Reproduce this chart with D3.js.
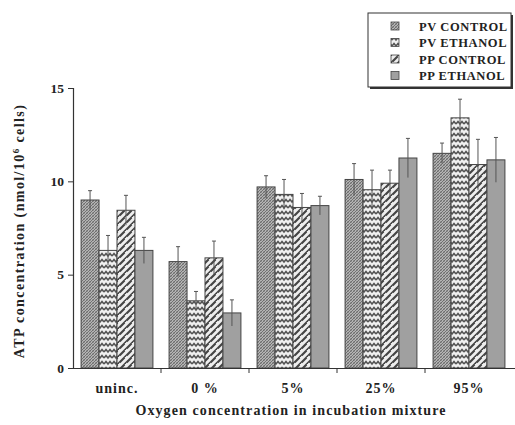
<!DOCTYPE html>
<html><head><meta charset="utf-8">
<script src="https://cdn.jsdelivr.net/npm/d3@7/dist/d3.min.js"></script>
<style>body{margin:0;background:#fff}svg{display:block}text{font-family:"Liberation Serif","DejaVu Serif",serif;font-weight:bold;fill:#222}</style>
</head><body><svg id="c" width="515" height="425"></svg>
<script>
const categories = ["uninc.", "0 %", "5%", "25%", "95%"];
const series = ["PV CONTROL", "PV ETHANOL", "PP CONTROL", "PP ETHANOL"];
const pvControl = [9.0, 5.7, 9.7, 10.1, 11.5];
const pvControlErr = [0.5, 0.8, 0.6, 0.85, 0.55];
const pvEthanol = [6.3, 3.6, 9.3, 9.55, 13.4];
const pvEthanolErr = [0.8, 0.5, 0.8, 1.05, 1.0];
const ppControl = [8.45, 5.9, 8.6, 9.9, 10.9];
const ppControlErr = [0.8, 0.9, 0.75, 0.7, 1.35];
const ppEthanol = [6.3, 2.95, 8.7, 11.25, 11.15];
const ppEthanolErr = [0.7, 0.7, 0.5, 1.05, 1.2];
const yTicks = [0, 5, 10, 15];

const values = [pvControl, pvEthanol, ppControl, ppEthanol];
const errs = [pvControlErr, pvEthanolErr, ppControlErr, ppEthanolErr];

const svg = d3.select("#c");
const defs = svg.append("defs");
// patterns
const p0 = defs.append("pattern").attr("id","p0").attr("patternUnits","userSpaceOnUse").attr("width",3).attr("height",3);
p0.append("rect").attr("width",3).attr("height",3).attr("fill","#b4b4b4");
p0.append("path").attr("d","M-1,1 L1,-1 M0,3 L3,0 M2,4 L4,2").attr("stroke","#5a5a5a").attr("stroke-width",0.8);
p0.append("path").attr("d","M-1,2 L1,4 M0,0 L3,3 M2,-1 L4,1").attr("stroke","#777").attr("stroke-width",0.5);
const p1 = defs.append("pattern").attr("id","p1").attr("patternUnits","userSpaceOnUse").attr("width",8).attr("height",6);
p1.append("rect").attr("width",8).attr("height",6).attr("fill","#f0f0f0");
p1.append("path").attr("d","M0,4 L2,1.5 L4,4 L6,1.5 L8,4").attr("stroke","#555").attr("stroke-width",1.6).attr("fill","none");
const p2 = defs.append("pattern").attr("id","p2").attr("patternUnits","userSpaceOnUse").attr("width",7).attr("height",7);
p2.append("rect").attr("width",7).attr("height",7).attr("fill","#eeeeee");
p2.append("path").attr("d","M1,5 L5,1 M4.5,8.5 L8.5,4.5 M-2.5,8.5 L-1,7").attr("stroke","#444").attr("stroke-width",2.2).attr("stroke-linecap","round");
const fills = ["url(#p0)","url(#p1)","url(#p2)","#a0a0a0"];

const y = d3.scaleLinear().domain([0,15]).range([368,88]);
const x = d3.scaleBand().domain(categories).range([73,513]);
const x1 = d3.scaleBand().domain(series).range([0,x.bandwidth()]).paddingInner(0).paddingOuter(0.45);

// bars
categories.forEach((c,i)=>{
  series.forEach((s,j)=>{
    const v = values[j][i], e = errs[j][i];
    const bx = x(c)+x1(s);
    svg.append("rect").attr("x",bx).attr("y",y(v)).attr("width",x1.bandwidth()).attr("height",y(0)-y(v))
      .attr("fill",fills[j]).attr("stroke","#444").attr("stroke-width",1);
    const cx = bx + x1.bandwidth()/2;
    svg.append("line").attr("x1",cx).attr("x2",cx).attr("y1",y(v+e)).attr("y2",y(v-e)).attr("stroke","#555").attr("stroke-width",1);
    svg.append("line").attr("x1",cx-2).attr("x2",cx+2).attr("y1",y(v+e)).attr("y2",y(v+e)).attr("stroke","#555").attr("stroke-width",1);
  });
});

// y axis
const ya = svg.append("g").attr("transform","translate(73,0)").call(d3.axisLeft(y).tickValues(yTicks).tickSize(5).tickPadding(4));
ya.select(".domain").attr("stroke","#333").attr("stroke-width",1.2);
ya.selectAll("line").attr("stroke","#333");
ya.selectAll("text").style("font-size","13.5px").style("font-family","Liberation Serif").style("font-weight","bold").attr("fill","#222");

// x axis
svg.append("line").attr("x1",73).attr("x2",515).attr("y1",368.5).attr("y2",368.5).attr("stroke","#333").attr("stroke-width",1.2);
categories.slice(0,-1).forEach(c=>{
  const tx = x(c)+x.bandwidth();
  svg.append("line").attr("x1",tx).attr("x2",tx).attr("y1",368).attr("y2",373).attr("stroke","#333");
});
categories.forEach(c=>{
  svg.append("text").attr("x",x(c)+x.bandwidth()/2).attr("y",393).attr("text-anchor","middle").style("font-size","14px").style("letter-spacing","1px").text(c);
});
svg.append("text").attr("x",291).attr("y",415).attr("text-anchor","middle").style("font-size","14px").style("letter-spacing","1.1px").text("Oxygen concentration in incubation mixture");
const yt = svg.append("text").attr("transform","translate(24,231) rotate(-90)").attr("text-anchor","middle").style("font-size","14px").style("letter-spacing","1.4px");
yt.append("tspan").text("ATP concentration (nmol/10");
yt.append("tspan").attr("dy",-5).style("font-size","9px").text("6");
yt.append("tspan").attr("dy",5).text(" cells)");

// legend
const lg = svg.append("g");
lg.append("rect").attr("x",370).attr("y",15).attr("width",143).attr("height",74).attr("fill","#333");
lg.append("rect").attr("x",368).attr("y",13).attr("width",143).attr("height",74).attr("fill","#fff").attr("stroke","#333").attr("stroke-width",1);
series.forEach((s,j)=>{
  const ry = 26 + j*16.5;
  lg.append("rect").attr("x",391).attr("y",ry-4).attr("width",8).attr("height",8).attr("fill",fills[j]).attr("stroke","#444").attr("stroke-width",0.8);
  lg.append("text").attr("x",419).attr("y",ry+4.5).style("font-size","12.5px").style("letter-spacing","0.6px").text(s);
});
</script></body></html>
